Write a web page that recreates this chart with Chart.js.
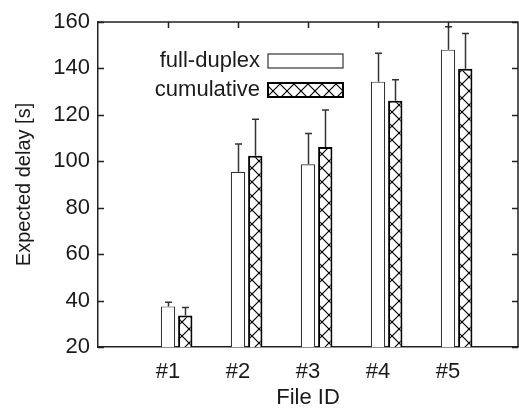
<!DOCTYPE html>
<html>
<head>
<meta charset="utf-8">
<script src="https://cdn.jsdelivr.net/npm/chart.js@4.4.1/dist/chart.umd.min.js"></script>
<style>
  html, body { margin: 0; padding: 0; background: #fff; overflow: hidden; }
  #wrap { width: 530px; height: 412px; }
</style>
</head>
<body>
<div id="wrap"><canvas id="delayChart" width="530" height="412"></canvas></div>
<script>
// file categories and measured delays (bar height = mean, errTop = upper whisker)
const categories = ['#1', '#2', '#3', '#4', '#5'];
const fullDuplex = [37.5, 95.5, 98.7, 134.3, 148.1];
const fullDuplexErrTop = [39.3, 107.5, 112.0, 146.5, 158.0];
const cumulative = [33.6, 102.4, 106.2, 126.1, 139.9];
const cumulativeErrTop = [37.0, 118.1, 122.1, 135.1, 155.1];
const yTicks = [20, 40, 60, 80, 100, 120, 140, 160];

const FONT = 'Liberation Sans, Arial, Helvetica, sans-serif';
const FONT_SIZE = 22;
const INK = '#1a1a1a';
const AXIS = '#222';

// empty slots at both ends so the files sit at 1..5 on a 0..6 range
const xLabels = ['', ...categories, ''];
const pad = arr => [null, ...arr, null];

// crosshatch fill used by the "cumulative" bars
function makeHatch() {
  const c = document.createElement('canvas');
  c.width = 14; c.height = 14;
  const p = c.getContext('2d');
  p.fillStyle = '#fff';
  p.fillRect(0, 0, 14, 14);
  p.strokeStyle = '#000';
  p.lineWidth = 1.2;
  p.beginPath();
  p.moveTo(0, 0); p.lineTo(14, 14);
  p.moveTo(14, 0); p.lineTo(0, 14);
  p.stroke();
  return p.createPattern(c, 'repeat');
}

const ctx = document.getElementById('delayChart').getContext('2d');
const hatch = makeHatch();

// frame, inward ticks, error whiskers and the boxed legend
const gnuplotDecor = {
  id: 'gnuplotDecor',
  beforeDatasetsDraw(chart) {
    const { ctx, chartArea: a, scales: { x } } = chart;
    ctx.save();
    ctx.strokeStyle = AXIS;
    ctx.lineWidth = 1.5;
    ctx.beginPath();
    categories.forEach((c, i) => {
      const px = Math.round(x.getPixelForValue(i + 1)) + 0.5;
      ctx.moveTo(px, a.bottom); ctx.lineTo(px, a.bottom - 6);
    });
    ctx.stroke();
    ctx.restore();
  },
  afterDatasetsDraw(chart) {
    const { ctx, chartArea: a, scales: { x, y } } = chart;
    ctx.save();

    // upper error whiskers
    ctx.strokeStyle = '#333';
    ctx.lineWidth = 1.5;
    [[1, fullDuplexErrTop], [2, cumulativeErrTop]].forEach(([di, tops]) => {
      const meta = chart.getDatasetMeta(di);
      tops.forEach((v, i) => {
        const bar = meta.data[i + 1];
        const bx = Math.round(bar.x) + 0.5;
        const yt = y.getPixelForValue(v);
        ctx.beginPath();
        ctx.moveTo(bx, bar.y);
        ctx.lineTo(bx, yt);
        ctx.moveTo(bx - 3.5, yt);
        ctx.lineTo(bx + 3.5, yt);
        ctx.stroke();
      });
    });

    // top and right border
    ctx.strokeStyle = AXIS;
    ctx.lineWidth = 1.5;
    ctx.beginPath();
    ctx.moveTo(a.left, a.top); ctx.lineTo(a.right, a.top); ctx.lineTo(a.right, a.bottom);
    ctx.stroke();

    // inward tick marks
    ctx.beginPath();
    yTicks.forEach(v => {
      const py = Math.round(y.getPixelForValue(v)) + 0.5;
      ctx.moveTo(a.left, py); ctx.lineTo(a.left + 6, py);
      ctx.moveTo(a.right, py); ctx.lineTo(a.right - 6, py);
    });
    categories.forEach((c, i) => {
      const px = Math.round(x.getPixelForValue(i + 1)) + 0.5;
      ctx.moveTo(px, a.top); ctx.lineTo(px, a.top + 6);
    });
    ctx.stroke();

    // legend: label on the left, sample box on the right
    ctx.font = FONT_SIZE + 'px ' + FONT;
    ctx.fillStyle = INK;
    ctx.textAlign = 'right';
    ctx.textBaseline = 'middle';
    [1, 2].forEach((di, k) => {
      const ds = chart.data.datasets[di];
      const cy = 61 + k * 29;
      ctx.fillText(ds.label, 260, cy);
      ctx.fillStyle = ds.backgroundColor;
      ctx.fillRect(268, cy - 7, 75, 14);
      ctx.strokeStyle = ds.borderColor;
      ctx.lineWidth = ds.borderWidth;
      ctx.strokeRect(268, cy - 7, 75, 14);
      ctx.fillStyle = INK;
    });
    ctx.restore();
  }
};

new Chart(ctx, {
  type: 'bar',
  data: {
    labels: xLabels,
    datasets: [
      {
        // spacer so that the full-duplex bar sits on the tick
        label: '',
        data: pad(categories.map(() => null)),
        backgroundColor: 'transparent'
      },
      {
        label: 'full-duplex',
        data: pad(fullDuplex),
        backgroundColor: '#ffffff',
        borderColor: '#333',
        borderWidth: 1.2,
        borderSkipped: 'bottom'
      },
      {
        label: 'cumulative',
        data: pad(cumulative),
        backgroundColor: hatch,
        borderColor: '#000',
        borderWidth: 2,
        borderSkipped: 'bottom'
      }
    ]
  },
  options: {
    responsive: false,
    animation: false,
    devicePixelRatio: 1,
    layout: { padding: { top: 22, right: 6, left: 0, bottom: 0 } },
    datasets: {
      bar: { categoryPercentage: 0.74, barPercentage: 0.83 }
    },
    plugins: {
      legend: { display: false },
      tooltip: { enabled: false }
    },
    scales: {
      x: {
        offset: false,
        grid: { display: false, drawTicks: false, offset: false },
        border: { display: true, color: AXIS, width: 1.5 },
        ticks: {
          color: INK,
          padding: 12,
          autoSkip: false,
          maxRotation: 0,
          font: { family: FONT, size: FONT_SIZE }
        },
        title: {
          display: true,
          text: 'File ID',
          color: INK,
          padding: { top: 0, bottom: 1 },
          font: { family: FONT, size: FONT_SIZE }
        },
        afterFit(scale) { scale.height = 65; }
      },
      y: {
        min: 20,
        max: 160,
        grid: { display: false, drawTicks: false },
        border: { display: true, color: AXIS, width: 1.5 },
        ticks: {
          stepSize: 20,
          color: INK,
          padding: 8,
          font: { family: FONT, size: FONT_SIZE }
        },
        title: {
          display: true,
          text: 'Expected delay [s]',
          color: INK,
          padding: { top: 12, bottom: 0 },
          font: { family: FONT, size: 20 }
        },
        afterFit(scale) { scale.width = 98; }
      }
    }
  },
  plugins: [gnuplotDecor]
});
</script>
</body>
</html>
